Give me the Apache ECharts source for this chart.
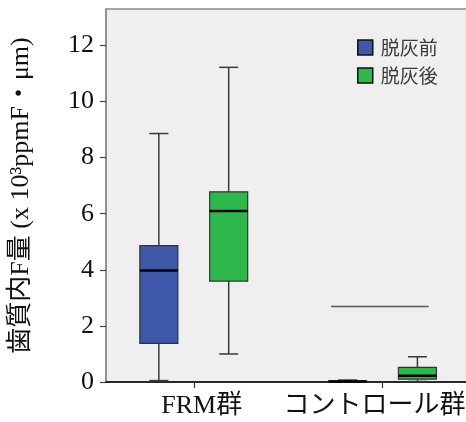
<!DOCTYPE html>
<html>
<head>
<meta charset="utf-8">
<script src="https://cdn.jsdelivr.net/npm/echarts@6/dist/echarts.min.js"></script>
<style>
  html, body { margin: 0; padding: 0; background: #ffffff; }
  #chart { width: 466px; height: 422px; }
</style>
</head>
<body>
<div id="chart"></div>
<script>
// Groups on the horizontal axis
const categories = ['FRM群', 'コントロール群'];
const seriesNames = ['脱灰前', '脱灰後'];
// Five-number summaries per group: [min, Q1, median, Q3, max]
const beforeStats = [
  [0.05, 1.38, 3.98, 4.86, 8.86],
  [0.00, 0.01, 0.02, 0.04, 0.07]
];
const afterStats = [
  [1.00, 3.60, 6.10, 6.78, 11.22],
  [0.02, 0.10, 0.22, 0.52, 0.90]
];
// Horizontal reference line drawn over the control group
const controlLineValue = 2.69;
const yTicks = [0, 2, 4, 6, 8, 10, 12];
const yTickLabels = ['0', '2', '4', '6', '8', '10', '12'];

// Layout constants (pixels / axis units)
const BOX_W = 38;
const CAP_W = 19;
const PAIR_OFFSET = 0.185;
const SERIF = '"Liberation Serif", "Noto Sans CJK JP", serif';
const JP = '"Noto Sans CJK JP", sans-serif';
const COLORS = ['#3e57a8', '#2eb84b'];

function renderBox(params, api) {
  const x = api.value(0);
  const pMin = api.coord([x, api.value(1)]);
  const pQ1 = api.coord([x, api.value(2)]);
  const pMed = api.coord([x, api.value(3)]);
  const pQ3 = api.coord([x, api.value(4)]);
  const pMax = api.coord([x, api.value(5)]);
  const cx = pMin[0];
  const whisker = { stroke: '#3a3a3a', lineWidth: 1.5 };
  return {
    type: 'group',
    children: [
      { type: 'line', shape: { x1: cx, y1: pMax[1], x2: cx, y2: pQ3[1] }, style: whisker },
      { type: 'line', shape: { x1: cx, y1: pQ1[1], x2: cx, y2: pMin[1] }, style: whisker },
      { type: 'line', shape: { x1: cx - CAP_W / 2, y1: pMax[1], x2: cx + CAP_W / 2, y2: pMax[1] }, style: whisker },
      { type: 'line', shape: { x1: cx - CAP_W / 2, y1: pMin[1], x2: cx + CAP_W / 2, y2: pMin[1] }, style: whisker },
      {
        type: 'rect',
        shape: { x: cx - BOX_W / 2, y: pQ3[1], width: BOX_W, height: Math.max(pQ1[1] - pQ3[1], 0.5) },
        style: { fill: api.visual('color'), stroke: '#333333', lineWidth: 1.2 }
      },
      { type: 'line', shape: { x1: cx - BOX_W / 2, y1: pMed[1], x2: cx + BOX_W / 2, y2: pMed[1] }, style: { stroke: '#000000', lineWidth: 2.5 } }
    ]
  };
}

const chart = echarts.init(document.getElementById('chart'));
chart.setOption({
  animation: false,
  backgroundColor: '#ffffff',
  textStyle: { fontFamily: SERIF },
  grid: {
    left: 106, right: -2, top: 9, bottom: 40,
    show: true,
    backgroundColor: '#efefef',
    borderColor: '#8a8a8a',
    borderWidth: 1.5,
    outerBoundsMode: 'none'
  },
  legend: {
    data: seriesNames,
    orient: 'vertical',
    left: 357, top: 38,
    padding: 0,
    icon: 'rect',
    itemWidth: 15, itemHeight: 15, itemGap: 9,
    itemStyle: { borderColor: '#111111', borderWidth: 1.5 },
    textStyle: { fontFamily: JP, fontSize: 19, color: '#3a3a3a', padding: [0, 0, 0, 3] }
  },
  xAxis: {
    type: 'value',
    min: -0.465, max: 1.453,
    splitLine: { show: false },
    axisLine: { show: true, onZero: false, lineStyle: { color: '#000000', width: 1.5 } },
    axisTick: { show: true, customValues: [0, 1], length: 6, lineStyle: { color: '#333333', width: 1.2 } },
    axisLabel: {
      customValues: [0, 1],
      margin: 11,
      formatter: v => (Math.round(v) === 0 ? '{a|' : '{b|') + categories[Math.round(v)] + '}',
      rich: {
        a: { fontFamily: SERIF, fontSize: 26, color: '#111111', padding: [0, 0, 0, 16] },
        b: { fontFamily: SERIF, fontSize: 26, color: '#111111', padding: [0, 16, 0, 0] }
      }
    }
  },
  yAxis: {
    type: 'value',
    min: 0, max: 13.3,
    splitLine: { show: false },
    axisLine: { show: true, onZero: false, lineStyle: { color: '#8a8a8a', width: 1.5 } },
    axisTick: { show: true, customValues: yTicks, length: 6, lineStyle: { color: '#444444', width: 1.2 } },
    axisLabel: {
      customValues: yTicks,
      margin: 12,
      fontFamily: SERIF,
      fontSize: 26,
      color: '#111111',
      formatter: v => yTickLabels[yTicks.indexOf(Math.round(v))]
    },
    name: '歯質内F量 (x 10³ppmF・μm)',
    nameLocation: 'middle',
    nameGap: 72,
    nameTextStyle: { fontFamily: SERIF, fontSize: 26, color: '#111111' }
  },
  series: [
    {
      name: seriesNames[0],
      type: 'custom',
      renderItem: renderBox,
      itemStyle: { color: COLORS[0], borderColor: '#111111', borderWidth: 1.5 },
      encode: { x: 0, y: [1, 2, 3, 4, 5] },
      data: beforeStats.map((s, i) => [i - PAIR_OFFSET].concat(s))
    },
    {
      name: seriesNames[1],
      type: 'custom',
      renderItem: renderBox,
      itemStyle: { color: COLORS[1], borderColor: '#111111', borderWidth: 1.5 },
      encode: { x: 0, y: [1, 2, 3, 4, 5] },
      data: afterStats.map((s, i) => [i + PAIR_OFFSET].concat(s))
    },
    {
      name: 'controlLine',
      type: 'line',
      silent: true,
      symbol: 'none',
      lineStyle: { color: '#555555', width: 1.5 },
      data: [[1 - 0.272, controlLineValue], [1 + 0.245, controlLineValue]]
    }
  ]
});
</script>
</body>
</html>
